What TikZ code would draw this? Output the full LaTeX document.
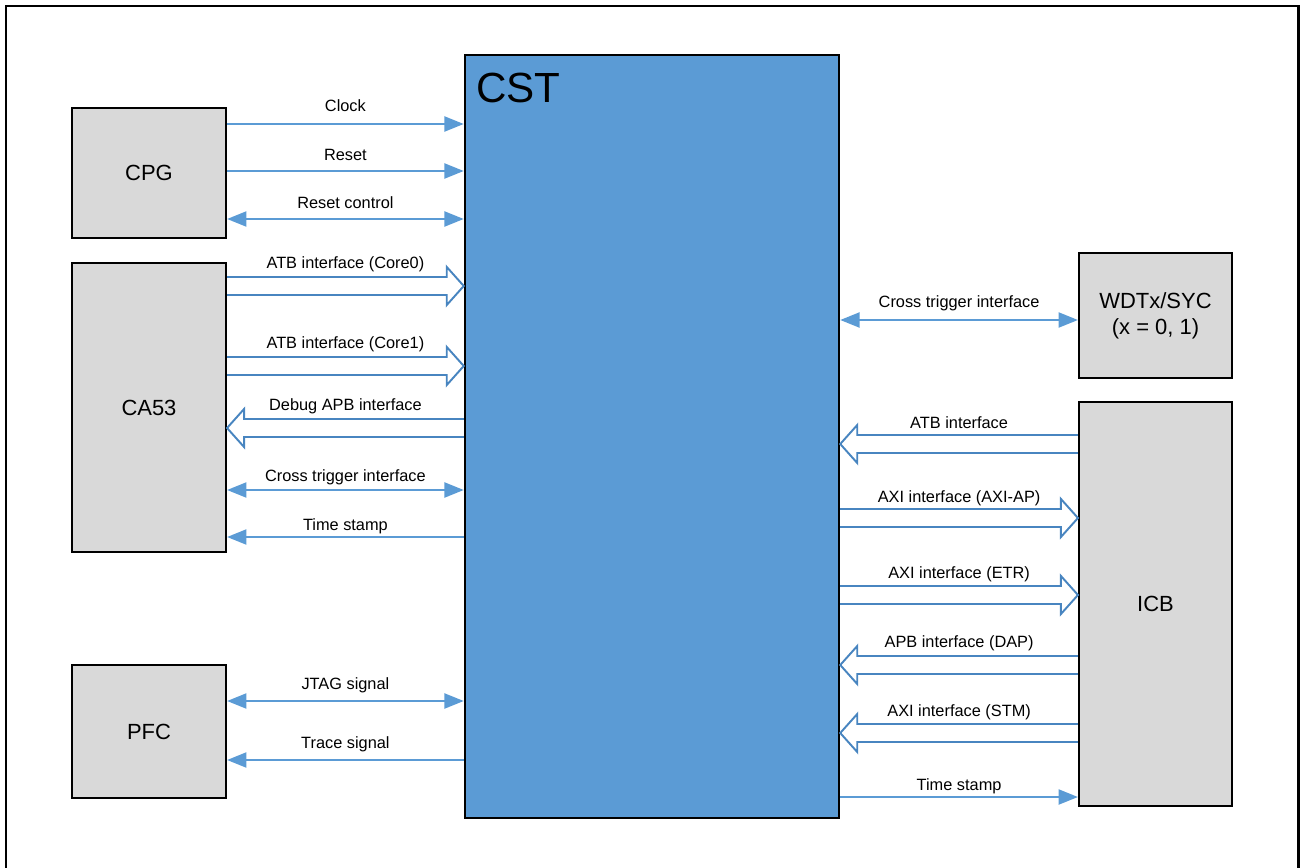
\documentclass[tikz,border=0pt]{standalone}
\usepackage{fontspec}
\setmainfont{Liberation Sans}
\usepackage{tikz}
\usetikzlibrary{arrows.meta, calc}
\definecolor{cstColor}{RGB}{91,155,213}
\definecolor{signalColor}{RGB}{91,155,213}
\definecolor{busColor}{RGB}{72,133,192}
\definecolor{blockColor}{RGB}{217,217,217}
\tikzstyle{pixelGrid} = [x = 0.02cm, y = -0.02cm, >={Triangle[length=11pt, width=8.5pt]}]
\tikzstyle{blockStyle} = [draw=black, fill=blockColor, line width=1.2pt, inner sep=0pt, font=\fontsize{12.5}{15}\selectfont, align=center]
\tikzstyle{cstStyle} = [draw=black, fill=cstColor, line width=1.4pt, inner sep=0pt]
\tikzstyle{signalLine} = [draw=signalColor, line width=1.3pt]
\tikzstyle{busLine} = [draw=busColor, fill=white, line width=1.1pt, line join=miter]
\tikzstyle{signalText} = [midway, inner sep=0pt, text height=0.72em, text depth=0pt, font=\fontsize{9.3}{11}\selectfont]
\tikzstyle{frameLine} = [draw=black, line width=1.7pt]
\newcommand{\px}{0.02cm}
% thin signal: style, from anchor, to anchor, line y, label y, label
\newcommand{\signal}[6]{\draw [signalLine, #1] (#2 |- 0,#4) -- (#3 |- 0,#4);
  \path (#2 |- 0,#5) -- (#3 |- 0,#5) node [signalText] {#6};}
% hollow bus arrow pointing right: from anchor, to anchor, centre y, label y, label
\newcommand{\busRight}[5]{\draw [busLine] (#1 |- 0,#3-9) -- ($(#2 |- 0,#3-9)+(-17,0)$) -- ++(0,-10) -- (#2 |- 0,#3) -- ($(#2 |- 0,#3+19)+(-17,0)$) -- ++(0,-10) -- (#1 |- 0,#3+9);
  \path (#1 |- 0,#4) -- (#2 |- 0,#4) node [signalText] {#5};}
% hollow bus arrow pointing left
\newcommand{\busLeft}[5]{\draw [busLine] (#1 |- 0,#3-9) -- ($(#2 |- 0,#3-9)+(17,0)$) -- ++(0,-10) -- (#2 |- 0,#3) -- ($(#2 |- 0,#3+19)+(17,0)$) -- ++(0,-10) -- (#1 |- 0,#3+9);
  \path (#1 |- 0,#4) -- (#2 |- 0,#4) node [signalText] {#5};}

\begin{document}
\begin{tikzpicture}[pixelGrid]
  \useasboundingbox (0,0) rectangle (1301,868);
  \draw [frameLine] (6,880) -- (6,6) -- (1298,6) -- (1298,880);

  % blocks
  \node [cstStyle, minimum width=374*\px, minimum height=763*\px] (cst) at (652,436.5) {};
  \node [anchor=base west, inner sep=0pt, font=\fontsize{24}{28}\selectfont] (cstName) at (476,103) {CST};
  \node [blockStyle, minimum width=154*\px, minimum height=130*\px] (cpg) at (149,173) {CPG};
  \node [blockStyle, minimum width=154*\px, minimum height=289*\px] (ca53) at (149,407.5) {CA53};
  \node [blockStyle, minimum width=154*\px, minimum height=133*\px] (pfc) at (149,731.5) {PFC};
  \node [blockStyle, minimum width=153*\px, minimum height=125*\px] (wdt) at (1155.5,315.5) {WDTx/SYC\\(x = 0, 1)};
  \node [blockStyle, minimum width=153*\px, minimum height=404*\px] (icb) at (1155.5,604) {ICB};

  % left side
  \signal{->}{cpg.east}{cst.west}{124}{105}{Clock}
  \signal{->}{cpg.east}{cst.west}{171}{154}{Reset}
  \signal{<->}{cpg.east}{cst.west}{219}{202}{Reset control}
  \busRight{ca53.east}{cst.west}{286}{262}{ATB interface (Core0)}
  \busRight{ca53.east}{cst.west}{366}{342}{ATB interface (Core1)}
  \busLeft{cst.west}{ca53.east}{428}{404}{Debug APB interface}
  \signal{<->}{ca53.east}{cst.west}{490}{475}{Cross trigger interface}
  \signal{<-}{ca53.east}{cst.west}{537}{524}{Time stamp}
  \signal{<->}{pfc.east}{cst.west}{701}{683}{JTAG signal}
  \signal{<-}{pfc.east}{cst.west}{760}{742}{Trace signal}

  % right side
  \signal{<->}{cst.east}{wdt.west}{320}{301}{Cross trigger interface}
  \busLeft{icb.west}{cst.east}{444}{422}{ATB interface}
  \busRight{cst.east}{icb.west}{518}{496}{AXI interface (AXI-AP)}
  \busRight{cst.east}{icb.west}{595}{572}{AXI interface (ETR)}
  \busLeft{icb.west}{cst.east}{665}{641}{APB interface (DAP)}
  \busLeft{icb.west}{cst.east}{733}{710}{AXI interface (STM)}
  \signal{->}{cst.east}{icb.west}{797}{784}{Time stamp}
\end{tikzpicture}
\end{document}
